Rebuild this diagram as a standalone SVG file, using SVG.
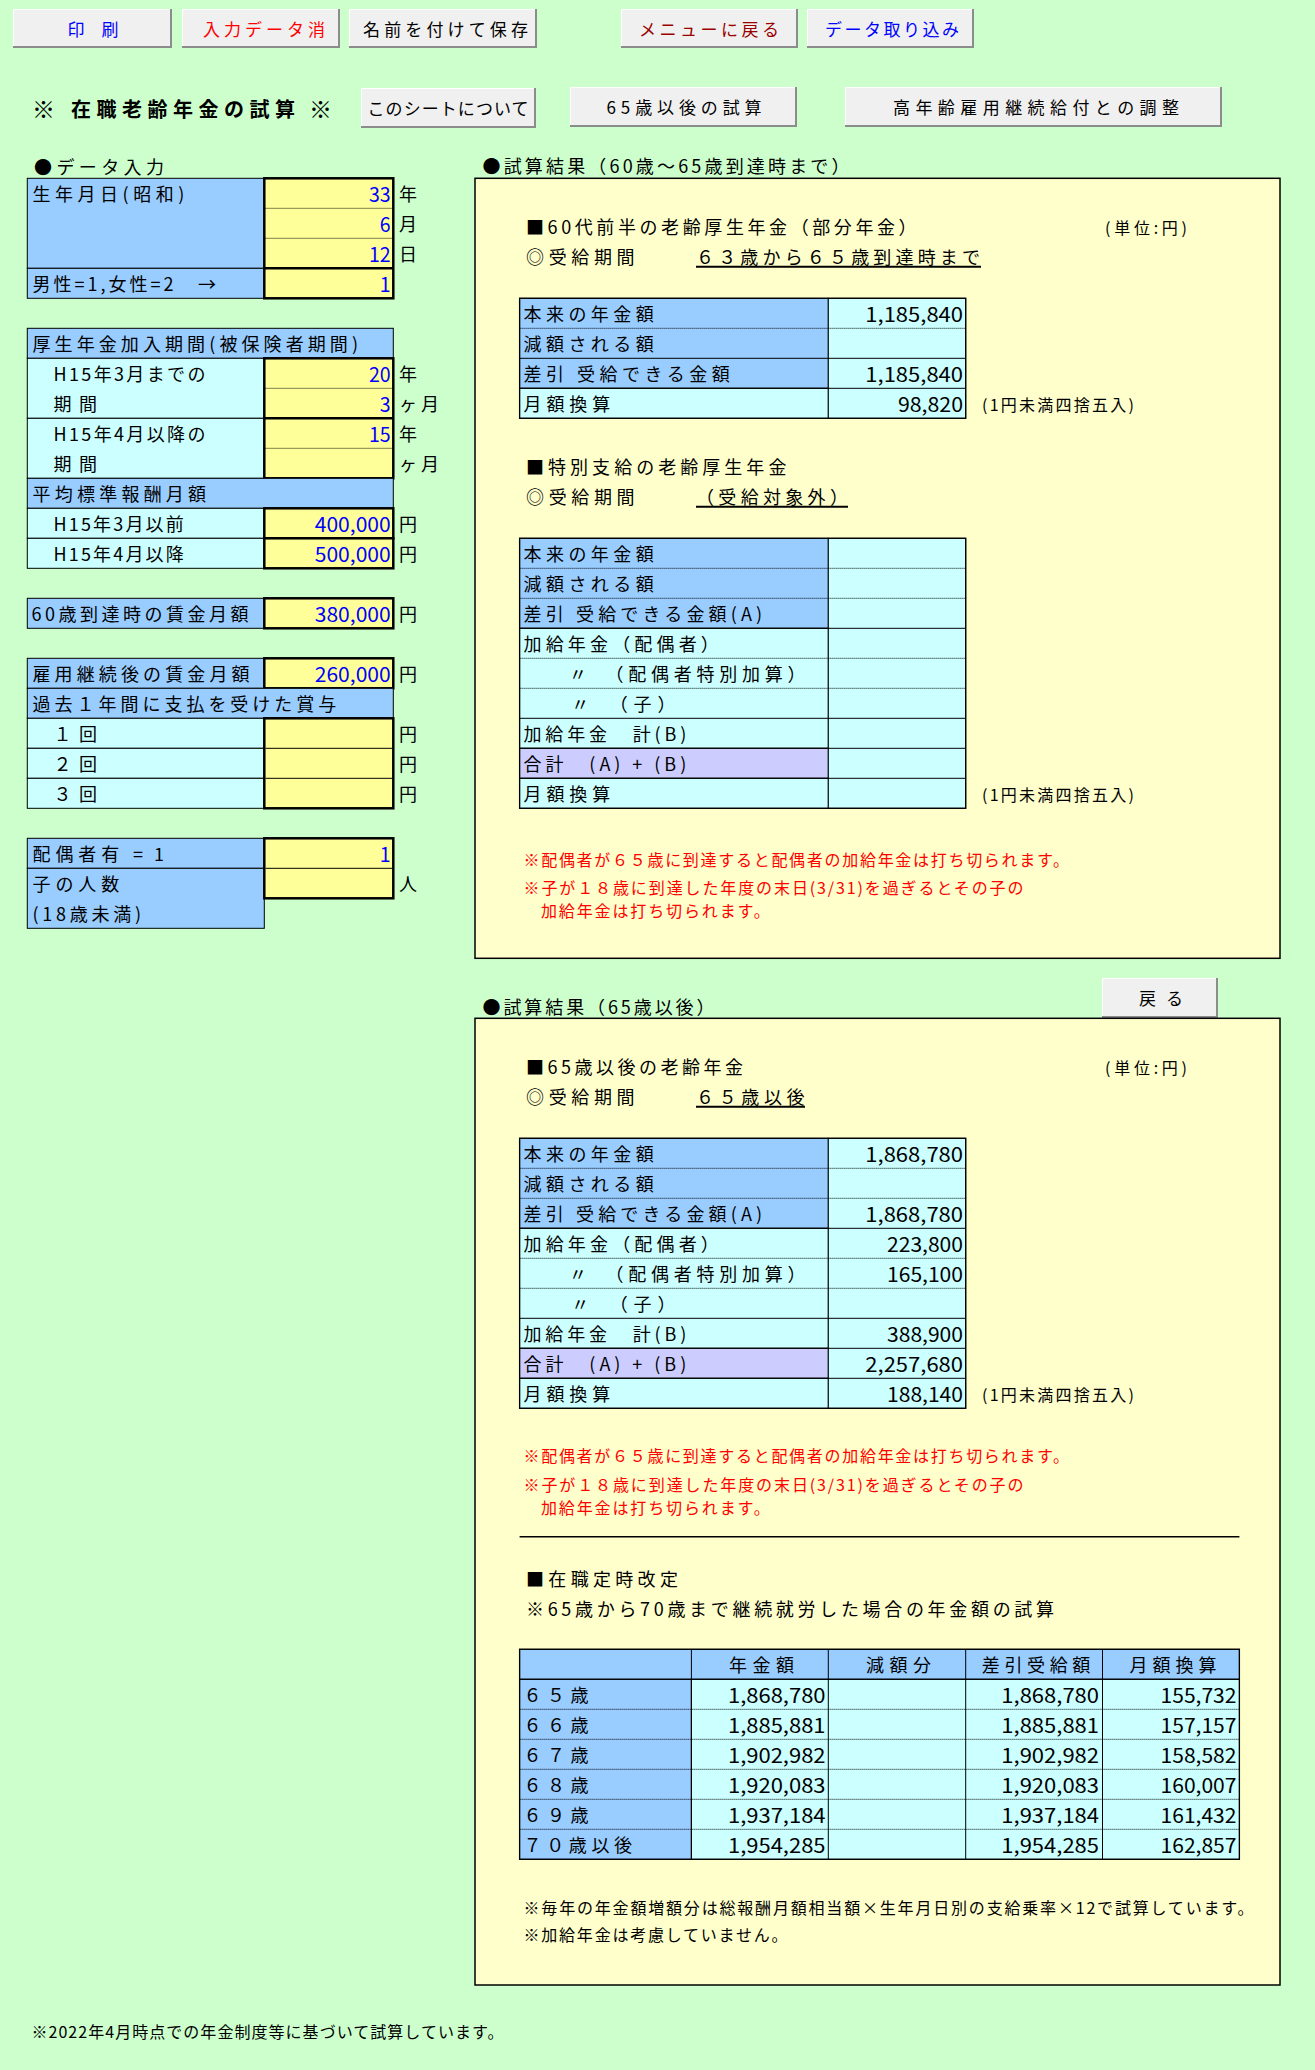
<svg xmlns="http://www.w3.org/2000/svg" width="1315" height="2070" viewBox="0 0 1315 2070">
<style>
text{font-family:'Noto Sans CJK JP','Noto Sans',sans-serif;font-size:18px;fill:#000}
.s{font-size:16px}
.n{font-size:20px;text-anchor:end}
.blu{fill:#0000FF}
.red{fill:#FF0000}
.btn{font-size:17px;text-anchor:middle}
.tt{font-size:20px;font-weight:bold}
.lb{fill:#99CCFF;stroke:#000;stroke-width:1}
.cy{fill:#CCFFFF;stroke:#000;stroke-width:1}
.lv{fill:#CCCCFF;stroke:#000;stroke-width:1}
.yl{fill:#FFFF99;stroke:#000;stroke-width:2.5}
.dot{stroke:#000;stroke-width:1;stroke-dasharray:1 1}
.ln{stroke:#000;stroke-width:1}
.thk{stroke:#000;stroke-width:2.5}
.ol{fill:none;stroke:#000;stroke-width:1.3}
.bg{fill:#F0F0F0}
.sh{fill:none;stroke:#8C8C8C;stroke-width:2}
.hl{fill:none;stroke:#FFFFFF;stroke-width:1}
.ul{stroke:#000;stroke-width:2}
.box{fill:#FFFFCC;stroke:#000;stroke-width:1.5}
</style>
<rect x="0" y="0" width="1315" height="2070" fill="#CCFFCC"/>

<!-- top buttons -->
<g id="btn-print"><rect class="bg" x="13" y="9" width="159" height="39"/><path class="hl" d="M13.5 48V9.5H172"/><path class="sh" d="M13 47H171V9"/><text class="btn blu" x="93" y="35.5">印　刷</text></g>
<g id="btn-clear"><rect class="bg" x="182" y="9" width="158" height="39"/><path class="hl" d="M182.5 48V9.5H340"/><path class="sh" d="M182 47H339V9"/><text class="btn red" x="264" y="35.5" textLength="122">入力データ消</text></g>
<g id="btn-save"><rect class="bg" x="349" y="9" width="188" height="39"/><path class="hl" d="M349.5 48V9.5H537"/><path class="sh" d="M349 47H536V9"/><text class="btn" x="445.5" y="35.5" textLength="165">名前を付けて保存</text></g>
<g id="btn-menu"><rect class="bg" x="621" y="9" width="177" height="39"/><path class="hl" d="M621.5 48V9.5H798"/><path class="sh" d="M621 47H797V9"/><text class="btn" style="fill:#990000" x="709" y="35.5" textLength="140">メニューに戻る</text></g>
<g id="btn-import"><rect class="bg" x="807" y="9" width="167" height="39"/><path class="hl" d="M807.5 48V9.5H974"/><path class="sh" d="M807 47H973V9"/><text class="btn blu" x="892" y="35.5" textLength="134">データ取り込み</text></g>

<!-- title row -->
<g id="title"><text class="tt" style="font-size:23px" x="32" y="118">※</text><text class="tt" x="71" y="117" textLength="224">在職老齢年金の試算</text><text class="tt" style="font-size:23px" x="309" y="118">※</text></g>
<g id="btn-about"><rect class="bg" x="361" y="88" width="175" height="40"/><path class="hl" d="M361.5 128V88.5H536"/><path class="sh" d="M361 127H535V88"/><text class="btn" x="448" y="114.5" textLength="161">このシートについて</text></g>
<g id="btn-65"><rect class="bg" x="570" y="87" width="227" height="40"/><path class="hl" d="M570.5 127V87.5H797"/><path class="sh" d="M570 126H796V87"/><text class="btn" x="684" y="114" textLength="155">65歳以後の試算</text></g>
<g id="btn-adjust"><rect class="bg" x="845" y="87" width="377" height="40"/><path class="hl" d="M845.5 127V87.5H1222"/><path class="sh" d="M845 126H1221V87"/><text class="btn" x="1036" y="114" textLength="286">高年齢雇用継続給付との調整</text></g>

<!-- LEFT PANEL -->
<text x="34" y="173.5" textLength="130">●データ入力</text>

<g id="birth">
<rect class="lb" x="27.3" y="178.3" width="237" height="90"/>
<rect class="lb" x="27.3" y="268.3" width="237" height="30"/>
<rect class="yl" x="264.3" y="178.3" width="129" height="120"/>
<line class="dot" x1="265.5" y1="208.3" x2="392" y2="208.3"/>
<line class="dot" x1="265.5" y1="238.3" x2="392" y2="238.3"/>
<line class="thk" x1="264.3" y1="268.3" x2="393.3" y2="268.3"/>
<text x="32.5" y="201.3" textLength="151.9">生年月日(昭和)</text>
<text x="32.5" y="291.3" textLength="141">男性=1,女性=2</text>
<text x="198" y="291.3">→</text>
<text class="n blu" x="390.7" y="201.8" textLength="21.7" lengthAdjust="spacingAndGlyphs">33</text>
<text class="n blu" x="390.7" y="231.8" textLength="10.85" lengthAdjust="spacingAndGlyphs">6</text>
<text class="n blu" x="390.7" y="261.8" textLength="21.7" lengthAdjust="spacingAndGlyphs">12</text>
<text class="n blu" x="390.7" y="291.8" textLength="10.85" lengthAdjust="spacingAndGlyphs">1</text>
<text x="399" y="201.3">年</text>
<text x="399" y="231.3">月</text>
<text x="399" y="261.3">日</text>
</g>

<g id="period">
<rect class="lb" x="27.3" y="328.3" width="366" height="30"/>
<rect class="cy" x="27.3" y="358.3" width="237" height="60"/>
<rect class="cy" x="27.3" y="418.3" width="237" height="60"/>
<rect class="yl" x="264.3" y="358.3" width="129" height="120"/>
<line class="dot" x1="265.5" y1="388.3" x2="392" y2="388.3"/>
<line class="dot" x1="265.5" y1="448.3" x2="392" y2="448.3"/>
<line class="thk" x1="264.3" y1="418.3" x2="393.3" y2="418.3"/>
<text x="32.5" y="351.3" textLength="325.5">厚生年金加入期間(被保険者期間)</text>
<text x="53.5" y="381.3" textLength="151.9">H15年3月までの</text>
<text x="53.5" y="411.3" textLength="43.4">期間</text>
<text x="53.5" y="441.3" textLength="151.9">H15年4月以降の</text>
<text x="53.5" y="471.3" textLength="43.4">期間</text>
<text class="n blu" x="390.7" y="381.8" textLength="21.7" lengthAdjust="spacingAndGlyphs">20</text>
<text class="n blu" x="390.7" y="411.8" textLength="10.85" lengthAdjust="spacingAndGlyphs">3</text>
<text class="n blu" x="390.7" y="441.8" textLength="21.7" lengthAdjust="spacingAndGlyphs">15</text>
<text x="399" y="381.3">年</text>
<text x="399" y="411.3" textLength="40">ヶ月</text>
<text x="399" y="441.3">年</text>
<text x="399" y="471.3" textLength="40">ヶ月</text>
</g>

<g id="salary">
<rect class="lb" x="27.3" y="478.3" width="366" height="30"/>
<rect class="cy" x="27.3" y="508.3" width="237" height="30"/>
<rect class="cy" x="27.3" y="538.3" width="237" height="30"/>
<rect class="yl" x="264.3" y="508.3" width="129" height="30"/>
<rect class="yl" x="264.3" y="538.3" width="129" height="30"/>
<text x="32.5" y="501.3" textLength="173.6">平均標準報酬月額</text>
<text x="53.5" y="531.3" textLength="130.2">H15年3月以前</text>
<text x="53.5" y="561.3" textLength="130.2">H15年4月以降</text>
<text class="n blu" x="390.7" y="531.8" textLength="75.95" lengthAdjust="spacingAndGlyphs">400,000</text>
<text class="n blu" x="390.7" y="561.8" textLength="75.95" lengthAdjust="spacingAndGlyphs">500,000</text>
<text x="399" y="531.3">円</text>
<text x="399" y="561.3">円</text>
</g>

<g id="wage60">
<rect class="lb" x="27.3" y="598.3" width="237" height="30"/>
<rect class="yl" x="264.3" y="598.3" width="129" height="30"/>
<text x="31.5" y="621.3" textLength="217">60歳到達時の賃金月額</text>
<text class="n blu" x="390.7" y="621.8" textLength="75.95" lengthAdjust="spacingAndGlyphs">380,000</text>
<text x="399" y="621.3">円</text>
</g>

<g id="wage-after">
<rect class="lb" x="27.3" y="658.3" width="237" height="30"/>
<rect class="yl" x="264.3" y="658.3" width="129" height="30"/>
<rect class="lb" x="27.3" y="688.3" width="366" height="30"/>
<rect class="cy" x="27.3" y="718.3" width="237" height="30"/>
<rect class="cy" x="27.3" y="748.3" width="237" height="30"/>
<rect class="cy" x="27.3" y="778.3" width="237" height="30"/>
<rect class="yl" x="264.3" y="718.3" width="129" height="90"/>
<line class="ln" x1="265.5" y1="748.3" x2="392" y2="748.3"/>
<line class="ln" x1="265.5" y1="778.3" x2="392" y2="778.3"/>
<text x="32.5" y="681.3" textLength="217">雇用継続後の賃金月額</text>
<text class="n blu" x="390.7" y="681.8" textLength="75.95" lengthAdjust="spacingAndGlyphs">260,000</text>
<text x="399" y="681.3">円</text>
<text x="32.5" y="711.3" textLength="303.8">過去１年間に支払を受けた賞与</text>
<text x="53.5" y="741.3" textLength="43.4">１回</text>
<text x="53.5" y="771.3" textLength="43.4">２回</text>
<text x="53.5" y="801.3" textLength="43.4">３回</text>
<text x="399" y="741.3">円</text>
<text x="399" y="771.3">円</text>
<text x="399" y="801.3">円</text>
</g>

<g id="family">
<rect class="lb" x="27.3" y="838.3" width="237" height="30"/>
<rect class="lb" x="27.3" y="868.3" width="237" height="60"/>
<rect class="yl" x="264.3" y="838.3" width="129" height="60"/>
<line class="ln" x1="265.5" y1="868.3" x2="392" y2="868.3"/>
<text x="32.5" y="861.3" textLength="86.8">配偶者有</text>
<text x="133" y="861.3">=</text>
<text x="154" y="861.3">1</text>
<text x="32.5" y="891.3" textLength="86.8">子の人数</text>
<text x="32.5" y="921.3" textLength="108.5">(18歳未満)</text>
<text class="n blu" x="390.7" y="861.8" textLength="10.85" lengthAdjust="spacingAndGlyphs">1</text>
<text x="399" y="891.3">人</text>
</g>

<!-- RIGHT PANEL 1 -->
<g id="result1">
<text x="482.5" y="172.5" textLength="367">●試算結果（60歳～65歳到達時まで）</text>
<rect class="box" x="475" y="178.3" width="805" height="780"/>
<text x="526" y="234" textLength="390.6">■60代前半の老齢厚生年金（部分年金）</text>
<text class="s" x="1105" y="234" textLength="82">(単位:円)</text>
<text x="526" y="263.5" textLength="108.5">◎受給期間</text>
<text x="696" y="263.5" textLength="284">６３歳から６５歳到達時まで</text>
<line class="ul" x1="696" y1="266.8" x2="981" y2="266.8"/>
</g>

<g id="tableA">
<rect class="lb" x="519.6" y="298.3" width="308.7" height="90"/>
<rect class="cy" x="519.6" y="388.3" width="308.7" height="30"/>
<rect class="cy" x="828.3" y="298.3" width="137.4" height="120"/>
<line class="dot" x1="519.6" y1="328.3" x2="965.7" y2="328.3"/>
<line class="ln" x1="519.6" y1="358.3" x2="965.7" y2="358.3"/>
<line class="ln" x1="519.6" y1="388.3" x2="965.7" y2="388.3"/>
<rect class="ol" x="519.6" y="298.3" width="446.1" height="120"/>
<text x="523.5" y="321.3" textLength="130.2">本来の年金額</text>
<text x="523.5" y="351.3" textLength="130.2">減額される額</text>
<text x="523.5" y="381.3" textLength="206.2">差引 受給できる金額</text>
<text x="523.5" y="411.3" textLength="86.8">月額換算</text>
<text class="n" x="963" y="321.8" textLength="97.65" lengthAdjust="spacingAndGlyphs">1,185,840</text>
<text class="n" x="963" y="381.8" textLength="97.65" lengthAdjust="spacingAndGlyphs">1,185,840</text>
<text class="n" x="963" y="411.8" textLength="65.1" lengthAdjust="spacingAndGlyphs">98,820</text>
<text class="s" x="982" y="411.3" textLength="152">(1円未満四捨五入)</text>
</g>

<g id="special">
<text x="526" y="474" textLength="260.4">■特別支給の老齢厚生年金</text>
<text x="526" y="503.5" textLength="108.5">◎受給期間</text>
<text x="696" y="503.5" textLength="151.9">（受給対象外）</text>
<line class="ul" x1="696" y1="506.8" x2="848" y2="506.8"/>
</g>

<g id="tableB">
<rect class="lb" x="519.6" y="538.3" width="308.7" height="90"/>
<rect class="cy" x="519.6" y="628.3" width="308.7" height="120"/>
<rect class="lv" x="519.6" y="748.3" width="308.7" height="30"/>
<rect class="cy" x="519.6" y="778.3" width="308.7" height="30"/>
<rect class="cy" x="828.3" y="538.3" width="137.4" height="270"/>
<line class="dot" x1="519.6" y1="568.3" x2="965.7" y2="568.3"/>
<line class="dot" x1="519.6" y1="598.3" x2="965.7" y2="598.3"/>
<line class="ln" x1="519.6" y1="628.3" x2="965.7" y2="628.3"/>
<line class="dot" x1="519.6" y1="658.3" x2="965.7" y2="658.3"/>
<line class="dot" x1="519.6" y1="688.3" x2="965.7" y2="688.3"/>
<line class="ln" x1="519.6" y1="718.3" x2="965.7" y2="718.3"/>
<line class="ln" x1="519.6" y1="748.3" x2="965.7" y2="748.3"/>
<line class="ln" x1="519.6" y1="778.3" x2="965.7" y2="778.3"/>
<rect class="ol" x="519.6" y="538.3" width="446.1" height="270"/>
<text x="523.5" y="561.3" textLength="130.2">本来の年金額</text>
<text x="523.5" y="591.3" textLength="130.2">減額される額</text>
<text x="523.5" y="621.3" textLength="238.7">差引 受給できる金額(A)</text>
<text x="523.5" y="651.3" textLength="195.3">加給年金（配偶者）</text>
<text x="523.5" y="681.3" textLength="282.1">　　〃　（配偶者特別加算）</text>
<text x="523.5" y="711.3" textLength="151.9">　　〃　（子）</text>
<text x="523.5" y="741.3" textLength="162.75">加給年金　計(B)</text>
<text x="523.5" y="771.3" textLength="162.75">合計　(A) + (B)</text>
<text x="523.5" y="801.3" textLength="86.8">月額換算</text>
<text class="s" x="982" y="801.3" textLength="152">(1円未満四捨五入)</text>
</g>

<g id="note1">
<text class="s red" x="523.5" y="865.5" textLength="545.6">※配偶者が６５歳に到達すると配偶者の加給年金は打ち切られます。</text>
<text class="s red" x="523.5" y="893.5" textLength="500">※子が１８歳に到達した年度の末日(3/31)を過ぎるとその子の</text>
<text class="s red" x="541" y="917" textLength="228.8">加給年金は打ち切られます。</text>
</g>

<!-- RIGHT PANEL 2 -->
<g id="btn-back"><rect class="bg" x="1102" y="978" width="116" height="40"/><path class="hl" d="M1102.5 1018V978.5H1218"/><path class="sh" d="M1102 1017H1217V978"/><text class="btn" x="1161" y="1004.5" textLength="44">戻る</text></g>

<g id="result2">
<text x="482.5" y="1013.5" textLength="232">●試算結果（65歳以後）</text>
<rect class="box" x="475" y="1018.3" width="805" height="966.7"/>
<text x="526" y="1074" textLength="217">■65歳以後の老齢年金</text>
<text class="s" x="1105" y="1074" textLength="82">(単位:円)</text>
<text x="526" y="1103.5" textLength="108.5">◎受給期間</text>
<text x="696" y="1103.5" textLength="108.5">６５歳以後</text>
<line class="ul" x1="696" y1="1106.8" x2="805" y2="1106.8"/>
</g>

<g id="tableC">
<rect class="lb" x="519.6" y="1138.3" width="308.7" height="90"/>
<rect class="cy" x="519.6" y="1228.3" width="308.7" height="120"/>
<rect class="lv" x="519.6" y="1348.3" width="308.7" height="30"/>
<rect class="cy" x="519.6" y="1378.3" width="308.7" height="30"/>
<rect class="cy" x="828.3" y="1138.3" width="137.4" height="270"/>
<line class="dot" x1="519.6" y1="1168.3" x2="965.7" y2="1168.3"/>
<line class="dot" x1="519.6" y1="1198.3" x2="965.7" y2="1198.3"/>
<line class="ln" x1="519.6" y1="1228.3" x2="965.7" y2="1228.3"/>
<line class="dot" x1="519.6" y1="1258.3" x2="965.7" y2="1258.3"/>
<line class="dot" x1="519.6" y1="1288.3" x2="965.7" y2="1288.3"/>
<line class="ln" x1="519.6" y1="1318.3" x2="965.7" y2="1318.3"/>
<line class="ln" x1="519.6" y1="1348.3" x2="965.7" y2="1348.3"/>
<line class="ln" x1="519.6" y1="1378.3" x2="965.7" y2="1378.3"/>
<rect class="ol" x="519.6" y="1138.3" width="446.1" height="270"/>
<text x="523.5" y="1161.3" textLength="130.2">本来の年金額</text>
<text x="523.5" y="1191.3" textLength="130.2">減額される額</text>
<text x="523.5" y="1221.3" textLength="238.7">差引 受給できる金額(A)</text>
<text x="523.5" y="1251.3" textLength="195.3">加給年金（配偶者）</text>
<text x="523.5" y="1281.3" textLength="282.1">　　〃　（配偶者特別加算）</text>
<text x="523.5" y="1311.3" textLength="151.9">　　〃　（子）</text>
<text x="523.5" y="1341.3" textLength="162.75">加給年金　計(B)</text>
<text x="523.5" y="1371.3" textLength="162.75">合計　(A) + (B)</text>
<text x="523.5" y="1401.3" textLength="86.8">月額換算</text>
<text class="n" x="963" y="1161.8" textLength="97.65" lengthAdjust="spacingAndGlyphs">1,868,780</text>
<text class="n" x="963" y="1221.8" textLength="97.65" lengthAdjust="spacingAndGlyphs">1,868,780</text>
<text class="n" x="963" y="1251.8" textLength="75.95" lengthAdjust="spacingAndGlyphs">223,800</text>
<text class="n" x="963" y="1281.8" textLength="75.95" lengthAdjust="spacingAndGlyphs">165,100</text>
<text class="n" x="963" y="1341.8" textLength="75.95" lengthAdjust="spacingAndGlyphs">388,900</text>
<text class="n" x="963" y="1371.8" textLength="97.65" lengthAdjust="spacingAndGlyphs">2,257,680</text>
<text class="n" x="963" y="1401.8" textLength="75.95" lengthAdjust="spacingAndGlyphs">188,140</text>
<text class="s" x="982" y="1401.3" textLength="152">(1円未満四捨五入)</text>
</g>

<g id="note2">
<text class="s red" x="523.5" y="1462" textLength="545.6">※配偶者が６５歳に到達すると配偶者の加給年金は打ち切られます。</text>
<text class="s red" x="523.5" y="1490.5" textLength="500">※子が１８歳に到達した年度の末日(3/31)を過ぎるとその子の</text>
<text class="s red" x="541" y="1513.5" textLength="228.8">加給年金は打ち切られます。</text>
</g>

<line id="divider" class="ln" x1="519.6" y1="1536.7" x2="1239.4" y2="1536.7" style="stroke-width:1.5"/>

<g id="revision">
<text x="526" y="1585.5" textLength="151.9">■在職定時改定</text>
<text x="526" y="1615.5" textLength="528">※65歳から70歳まで継続就労した場合の年金額の試算</text>
</g>

<g id="tableD">
<rect class="lb" x="519.6" y="1649.3" width="719.8" height="30"/>
<rect class="lb" x="519.6" y="1679.3" width="171.8" height="180"/>
<rect class="cy" x="691.4" y="1679.3" width="548" height="180"/>
<line class="dot" x1="519.6" y1="1709.3" x2="1239.4" y2="1709.3"/>
<line class="dot" x1="519.6" y1="1739.3" x2="1239.4" y2="1739.3"/>
<line class="dot" x1="519.6" y1="1769.3" x2="1239.4" y2="1769.3"/>
<line class="dot" x1="519.6" y1="1799.3" x2="1239.4" y2="1799.3"/>
<line class="dot" x1="519.6" y1="1829.3" x2="1239.4" y2="1829.3"/>
<line class="ln" x1="519.6" y1="1679.3" x2="1239.4" y2="1679.3"/>
<line class="ln" x1="691.4" y1="1649.3" x2="691.4" y2="1859.3"/>
<line class="ln" x1="828.3" y1="1649.3" x2="828.3" y2="1859.3"/>
<line class="ln" x1="965.7" y1="1649.3" x2="965.7" y2="1859.3"/>
<line class="ln" x1="1102.5" y1="1649.3" x2="1102.5" y2="1859.3"/>
<rect class="ol" x="519.6" y="1649.3" width="719.8" height="210"/>
<text x="761.5" y="1672.3" text-anchor="middle" textLength="65.1">年金額</text>
<text x="898.5" y="1672.3" text-anchor="middle" textLength="65.1">減額分</text>
<text x="1036" y="1672.3" text-anchor="middle" textLength="108.5">差引受給額</text>
<text x="1173" y="1672.3" text-anchor="middle" textLength="86.8">月額換算</text>
<text x="523.5" y="1702.3" textLength="65.1">６５歳</text>
<text x="523.5" y="1732.3" textLength="65.1">６６歳</text>
<text x="523.5" y="1762.3" textLength="65.1">６７歳</text>
<text x="523.5" y="1792.3" textLength="65.1">６８歳</text>
<text x="523.5" y="1822.3" textLength="65.1">６９歳</text>
<text x="523.5" y="1852.3" textLength="108.5">７０歳以後</text>
<text class="n" x="825.6" y="1702.8" textLength="97.65" lengthAdjust="spacingAndGlyphs">1,868,780</text>
<text class="n" x="825.6" y="1732.8" textLength="97.65" lengthAdjust="spacingAndGlyphs">1,885,881</text>
<text class="n" x="825.6" y="1762.8" textLength="97.65" lengthAdjust="spacingAndGlyphs">1,902,982</text>
<text class="n" x="825.6" y="1792.8" textLength="97.65" lengthAdjust="spacingAndGlyphs">1,920,083</text>
<text class="n" x="825.6" y="1822.8" textLength="97.65" lengthAdjust="spacingAndGlyphs">1,937,184</text>
<text class="n" x="825.6" y="1852.8" textLength="97.65" lengthAdjust="spacingAndGlyphs">1,954,285</text>
<text class="n" x="1099" y="1702.8" textLength="97.65" lengthAdjust="spacingAndGlyphs">1,868,780</text>
<text class="n" x="1099" y="1732.8" textLength="97.65" lengthAdjust="spacingAndGlyphs">1,885,881</text>
<text class="n" x="1099" y="1762.8" textLength="97.65" lengthAdjust="spacingAndGlyphs">1,902,982</text>
<text class="n" x="1099" y="1792.8" textLength="97.65" lengthAdjust="spacingAndGlyphs">1,920,083</text>
<text class="n" x="1099" y="1822.8" textLength="97.65" lengthAdjust="spacingAndGlyphs">1,937,184</text>
<text class="n" x="1099" y="1852.8" textLength="97.65" lengthAdjust="spacingAndGlyphs">1,954,285</text>
<text class="n" x="1236.5" y="1702.8" textLength="75.95" lengthAdjust="spacingAndGlyphs">155,732</text>
<text class="n" x="1236.5" y="1732.8" textLength="75.95" lengthAdjust="spacingAndGlyphs">157,157</text>
<text class="n" x="1236.5" y="1762.8" textLength="75.95" lengthAdjust="spacingAndGlyphs">158,582</text>
<text class="n" x="1236.5" y="1792.8" textLength="75.95" lengthAdjust="spacingAndGlyphs">160,007</text>
<text class="n" x="1236.5" y="1822.8" textLength="75.95" lengthAdjust="spacingAndGlyphs">161,432</text>
<text class="n" x="1236.5" y="1852.8" textLength="75.95" lengthAdjust="spacingAndGlyphs">162,857</text>
</g>

<g id="footnotes">
<text class="s" x="523.5" y="1913.5" textLength="730">※毎年の年金額増額分は総報酬月額相当額×生年月日別の支給乗率×12で試算しています。</text>
<text class="s" x="523.5" y="1940.5" textLength="264">※加給年金は考慮していません。</text>
<text class="s" x="31.5" y="2038" textLength="472">※2022年4月時点での年金制度等に基づいて試算しています。</text>
</g>
</svg>
